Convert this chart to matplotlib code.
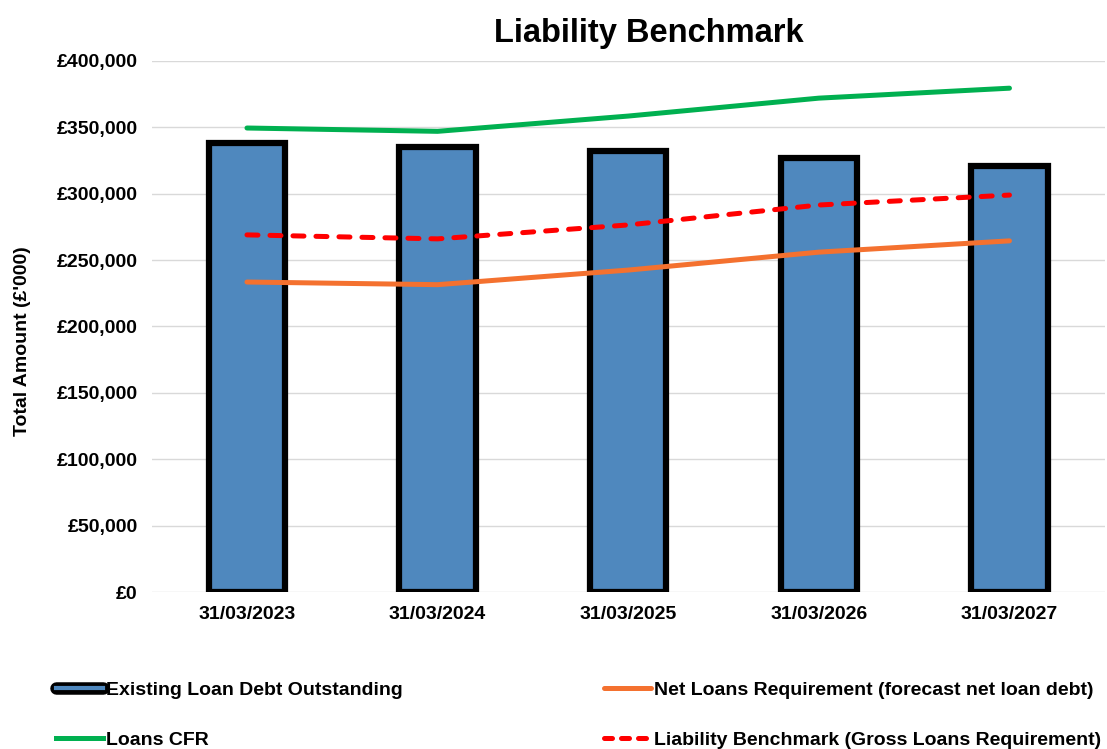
import matplotlib
matplotlib.use("Agg")
import matplotlib.pyplot as plt
from matplotlib.lines import Line2D
from matplotlib.ticker import FuncFormatter
import numpy as np

plt.rcParams["font.family"] = ["Liberation Sans", "DejaVu Sans"]
plt.rcParams["font.weight"] = "bold"

dates = ["31/03/2023", "31/03/2024", "31/03/2025", "31/03/2026", "31/03/2027"]
existing_debt = [338000, 335000, 332000, 327000, 321000]
loans_cfr = [349500, 347000, 358500, 372000, 379500]
net_loans_req = [233500, 231500, 242500, 256000, 264500]
liability_benchmark = [269000, 266000, 276500, 291500, 299000]

BLUE = "#4F88BE"
GREEN = "#00B050"
ORANGE = "#F4712F"
RED = "#FF0000"

fig = plt.figure(figsize=(11.07, 7.49), dpi=100)
ax = fig.add_axes([0.137, 0.2096, 0.861, 0.709])

x = np.arange(len(dates))
ax.bar(x, existing_debt, width=0.40, color=BLUE, edgecolor="black", linewidth=4.5, zorder=2)
ax.plot(x, loans_cfr, color=GREEN, lw=3.6, zorder=3, solid_capstyle="round")
ax.plot(x, net_loans_req, color=ORANGE, lw=3.6, zorder=3, solid_capstyle="round")
ax.plot(x, liability_benchmark, color=RED, lw=3.6, ls=(0, (2.2, 2.4)),
        dash_capstyle="round", zorder=3)

ax.set_xlim(-0.5, len(dates) - 0.5)
ax.set_ylim(0, 400000)
ax.set_yticks(np.arange(0, 400001, 50000))
ax.yaxis.set_major_formatter(FuncFormatter(lambda v, p: f"£{v:,.0f}"))
ax.set_xticks(x)
ax.set_xticklabels(dates)
ax.tick_params(axis="both", length=0, labelsize=14, pad=10)
for lbl in ax.get_xticklabels() + ax.get_yticklabels():
    lbl.set_fontweight("bold")
ax.grid(axis="y", color="#d9d9d9", lw=1, zorder=0)
ax.set_axisbelow(True)
for s in ax.spines.values():
    s.set_visible(False)
ax.set_ylabel("Total Amount (£'000)", fontsize=14, fontweight="bold")
ax.yaxis.set_label_coords(-0.127, 0.473)
fig.text(0.586, 0.955, "Liability Benchmark", fontsize=23.5, fontweight="bold",
         ha="center", va="center")

bar_handle = (Line2D([], [], color="black", lw=9, solid_capstyle="round"),
              Line2D([], [], color=BLUE, lw=3))
col1 = [bar_handle, Line2D([], [], color=GREEN, lw=3.6)]
col2 = [Line2D([], [], color=ORANGE, lw=3.6, solid_capstyle="round"),
        Line2D([], [], color=RED, lw=3.6, ls=(0, (1.6, 1.8)), dash_capstyle="round")]
labels1 = ["Existing Loan Debt Outstanding", "Loans CFR"]
labels2 = ["Net Loans Requirement (forecast net loan debt)",
           "Liability Benchmark (Gross Loans Requirement)"]
leg_kw = dict(loc="center left", frameon=False, prop={"size": 14, "weight": "bold"},
              handlelength=2.4, handletextpad=0.15, labelspacing=1.65,
              borderpad=0, borderaxespad=0)
fig.legend(col1, labels1, bbox_to_anchor=(56 / 1107, 1 - 715 / 749), **leg_kw)
fig.legend(col2, labels2, bbox_to_anchor=(604 / 1107, 1 - 715 / 749), **leg_kw)

fig.savefig("out.png", dpi=100)
